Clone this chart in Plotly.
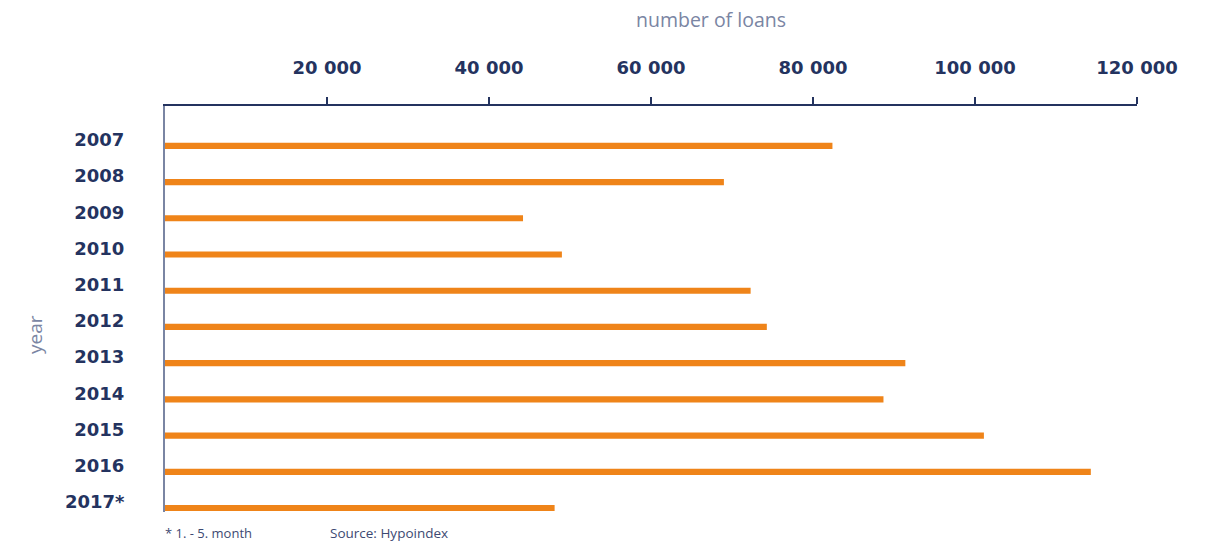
import plotly.graph_objects as go

years = ["2007", "2008", "2009", "2010", "2011", "2012", "2013", "2014", "2015", "2016", "2017*"]
loans = [82400, 69000, 44200, 49000, 72300, 74300, 91400, 88700, 101100, 114300, 48100]
x_ticks = [20000, 40000, 60000, 80000, 100000, 120000]
x_tick_labels = ["20 000", "40 000", "60 000", "80 000", "100 000", "120 000"]

NAVY = "#24335f"
GREY = "#7a85a3"
ORANGE = "#ef8419"

fig = go.Figure(
    go.Bar(
        x=loans,
        y=years,
        orientation="h",
        width=0.17,
        marker=dict(color=ORANGE, line=dict(width=0)),
        hoverinfo="x+y",
    )
)

fig.update_layout(
    width=1208,
    height=543,
    margin=dict(l=165, r=71, t=106, b=31),
    paper_bgcolor="white",
    plot_bgcolor="white",
    showlegend=False,
    xaxis=dict(
        side="top",
        range=[0, 120000],
        tickvals=x_ticks,
        ticktext=x_tick_labels,
        showgrid=False,
        zeroline=False,
        showline=True,
        linecolor=NAVY,
        linewidth=2,
        ticks="outside",
        ticklen=7,
        tickwidth=2,
        tickcolor=NAVY,
        ticklabelstandoff=16,
        tickfont=dict(family="DejaVu Sans", size=18, color=NAVY, weight="bold"),
    ),
    yaxis=dict(
        type="category",
        categoryorder="array",
        categoryarray=years,
        range=[10.11, -1.1],
        showgrid=False,
        zeroline=False,
        showline=True,
        linecolor=GREY,
        linewidth=2,
        ticks="",
        ticklabelstandoff=35,
        ticklabelshift=6,
        tickfont=dict(family="DejaVu Sans", size=18, color=NAVY, weight="bold"),
    ),
    annotations=[
        dict(text="number of loans", xref="paper", yref="paper", x=(711 - 165) / 972, y=1 + (106 - 20) / 406,
             xanchor="center", yanchor="middle", showarrow=False,
             font=dict(family="Open Sans", size=19.5, color=GREY)),
        dict(text="year", xref="paper", yref="paper", x=-(165 - 35) / 972, y=(512 - 335) / 406,
             xanchor="center", yanchor="middle", showarrow=False, textangle=-90,
             font=dict(family="Open Sans", size=19, color=GREY)),
        dict(text="* 1. - 5. month", xref="paper", yref="paper", x=-(165 - 163) / 972, y=-(533 - 512) / 406,
             xanchor="left", yanchor="middle", showarrow=False,
             font=dict(family="Open Sans", size=13, color="#3d4972")),
        dict(text="Source: Hypoindex", xref="paper", yref="paper", x=(328 - 165) / 972, y=-(533 - 512) / 406,
             xanchor="left", yanchor="middle", showarrow=False,
             font=dict(family="Open Sans", size=13.5, color="#3d4972")),
    ],
)

fig.write_html("out.html")
